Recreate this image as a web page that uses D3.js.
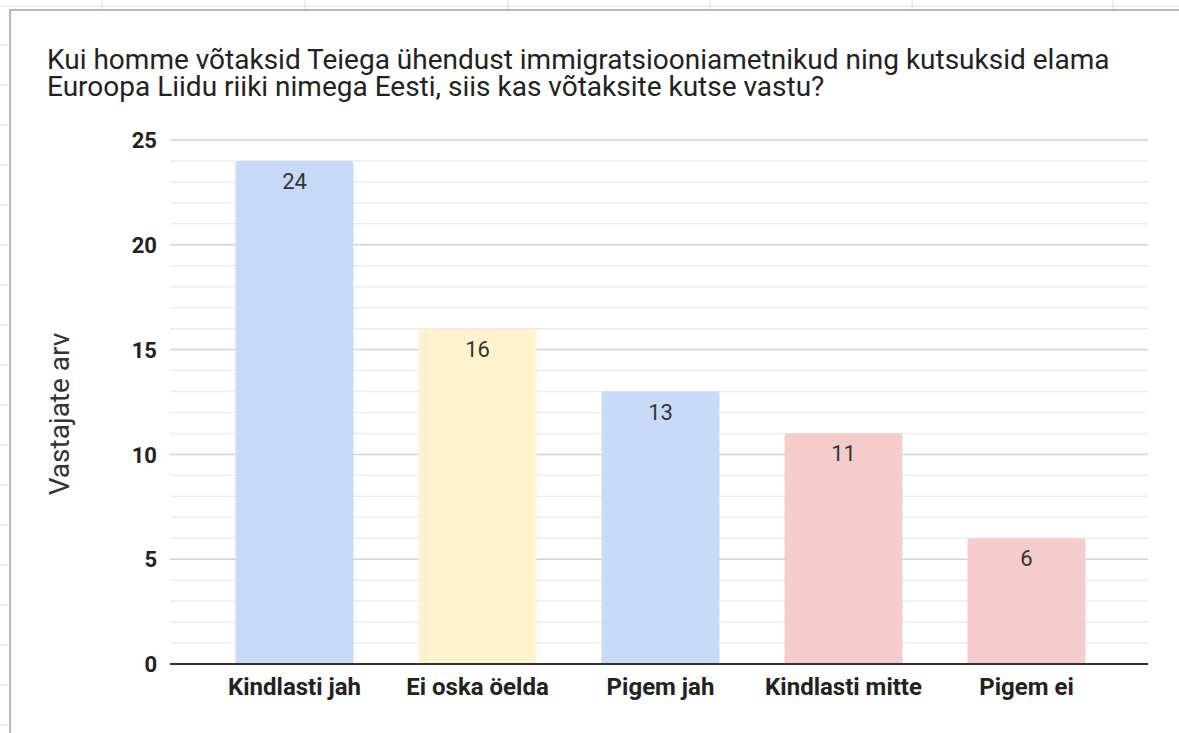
<!DOCTYPE html>
<html>
<head>
<meta charset="utf-8">
<script src="https://cdn.jsdelivr.net/npm/d3@7"></script>
<style>
  html, body { margin: 0; padding: 0; background: #fff; }
  svg { display: block; }
  text { font-family: Roboto, "Noto Sans", Arial, sans-serif; }
</style>
</head>
<body>
<svg id="chart" width="1179" height="733"></svg>
<script>
// ---- data ----
const categories = ["Kindlasti jah", "Ei oska öelda", "Pigem jah", "Kindlasti mitte", "Pigem ei"];
const values = [24, 16, 13, 11, 6];
const barColors = ["#c9daf8", "#fff2cc", "#c9daf8", "#f4cccc", "#f4cccc"];
const yTicks = [0, 5, 10, 15, 20, 25];
const titleLines = [
  "Kui homme võtaksid Teiega ühendust immigratsiooniametnikud ning kutsuksid elama",
  "Euroopa Liidu riiki nimega Eesti, siis kas võtaksite kutse vastu?"
];
const yAxisTitle = "Vastajate arv";

// ---- layout ----
const W = 1179, H = 733;
const plot = { left: 170, right: 1148, top: 140, bottom: 664 };
const svg = d3.select("#chart");

// spreadsheet background decorations
const deco = svg.append("g");
deco.append("line").attr("x1", 0).attr("x2", W).attr("y1", 6).attr("y2", 6)
  .attr("stroke", "#e2e2e2").attr("stroke-width", 1);
d3.range(45, H, 40).forEach(yy => {
  deco.append("line").attr("x1", 0).attr("x2", 8).attr("y1", yy).attr("y2", yy)
    .attr("stroke", "#d8d8d8").attr("stroke-width", 1);
});
[102, 305, 508, 710, 912, 1113].forEach(xx => {
  deco.append("line").attr("x1", xx).attr("x2", xx).attr("y1", 0).attr("y2", 9)
    .attr("stroke", "#dcdcdc").attr("stroke-width", 1);
});
// chart frame
deco.append("path").attr("d", `M10,${H} L10,10 L${W},10`)
  .attr("fill", "none").attr("stroke", "#b8b8b8").attr("stroke-width", 2);

// scales
const x = d3.scaleBand().domain(categories).range([203, 1118])
  .paddingInner(0.355).paddingOuter(0.1775);
const y = d3.scaleLinear().domain([0, 25]).range([plot.bottom, plot.top]);

// minor gridlines
svg.append("g").selectAll("line").data(d3.range(0, 26).filter(v => v % 5 !== 0))
  .join("line")
  .attr("x1", plot.left).attr("x2", plot.right)
  .attr("y1", d => y(d)).attr("y2", d => y(d))
  .attr("stroke", "#ebebeb").attr("stroke-width", 1.5);

// major gridlines
svg.append("g").selectAll("line").data(yTicks.filter(v => v !== 0))
  .join("line")
  .attr("x1", plot.left).attr("x2", plot.right)
  .attr("y1", d => y(d)).attr("y2", d => y(d))
  .attr("stroke", "#d2d2d2").attr("stroke-width", 1.5);

// y axis tick labels
const yAxis = d3.axisLeft(y).tickValues(yTicks).tickSize(0).tickPadding(0);
const yg = svg.append("g").attr("transform", `translate(157,0)`).call(yAxis);
yg.select(".domain").remove();
yg.selectAll("text")
  .attr("font-family", "Roboto, sans-serif")
  .attr("font-size", 22).attr("font-weight", "bold").attr("fill", "#222")
  .attr("dy", "0.35em");

// bars
svg.append("g").selectAll("path").data(categories)
  .join("path")
  .attr("d", (c, i) => {
    const x0 = x(c), w = x.bandwidth(), y0 = y(values[i]), yb = y(0), r = 3;
    return `M${x0},${yb} L${x0},${y0 + r} Q${x0},${y0} ${x0 + r},${y0} L${x0 + w - r},${y0} Q${x0 + w},${y0} ${x0 + w},${y0 + r} L${x0 + w},${yb} Z`;
  })
  .attr("fill", (c, i) => barColors[i]);

// baseline
svg.append("line").attr("x1", plot.left).attr("x2", plot.right)
  .attr("y1", y(0)).attr("y2", y(0)).attr("stroke", "#333").attr("stroke-width", 2);

// data labels
svg.append("g").selectAll("text").data(categories)
  .join("text")
  .attr("x", c => x(c) + x.bandwidth() / 2)
  .attr("y", (c, i) => y(values[i]) + 28)
  .attr("text-anchor", "middle")
  .attr("font-size", 22).attr("fill", "#333")
  .text((c, i) => values[i]);

// x axis labels
const xAxis = d3.axisBottom(x).tickSize(0).tickPadding(0);
const xg = svg.append("g").attr("transform", `translate(0,${plot.bottom})`).call(xAxis);
xg.select(".domain").remove();
xg.selectAll("text")
  .attr("font-family", "Roboto, sans-serif")
  .attr("font-size", 24).attr("font-weight", "bold").attr("fill", "#222")
  .attr("dy", 0).attr("y", 31);

// title
svg.append("text").attr("x", 47).attr("y", 69)
  .attr("font-size", 28).attr("fill", "#222")
  .selectAll("tspan").data(titleLines).join("tspan")
  .attr("x", 47).attr("dy", (d, i) => i === 0 ? 0 : 27)
  .text(d => d);

// y axis title
svg.append("text")
  .attr("transform", `translate(69,414) rotate(-90)`)
  .attr("text-anchor", "middle")
  .attr("font-size", 28).attr("fill", "#333")
  .text(yAxisTitle);
</script>
</body>
</html>
